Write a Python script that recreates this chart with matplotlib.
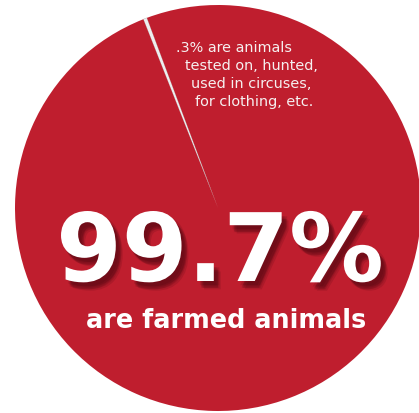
import matplotlib
matplotlib.use("Agg")
import matplotlib.pyplot as plt
import matplotlib.patheffects as pe

# Share of animals by use (percent)
categories = ["tested on, hunted, circuses, clothing", "farmed animals"]
shares = [0.3, 99.7]

headline = "99.7%"
headline_caption = "are farmed animals"
minor_caption = [".3% are animals", "tested on, hunted,", "used in circuses,", "for clothing, etc."]

RED = "#BF1E2E"
SLIVER = "#eeeeee"

W, H = 419, 414
fig = plt.figure(figsize=(W / 100, H / 100), dpi=100)
ax = fig.add_axes([0, 0, 1, 1])

wedges, _ = ax.pie(
    shares,
    colors=[SLIVER, RED],
    startangle=110.5,
    counterclock=True,
    center=(218, 205),
    radius=203,
    frame=True,
    wedgeprops=dict(linewidth=0),
)
wedges[0].set_edgecolor("#b0b0b0")
wedges[0].set_linewidth(0.3)

ax.set_xlim(0, W)
ax.set_ylim(0, H)
ax.set_aspect("equal")
ax.axis("off")

# Annotation for the thin slice, indented along the slice edge
xs = [176, 185, 191, 195]
baselines = [52, 70, 88, 106]
for txt, x, yb in zip(minor_caption, xs, baselines):
    ax.text(x, H - yb, txt, color="#f6f0f0", fontsize=10.4,
            family="DejaVu Sans", fontweight="medium", ha="left", va="baseline")

# Headline figure with a soft drop shadow (several faint layers)
shadow = [pe.SimplePatchShadow(offset=(dx, dy), shadow_rgbFace="#4a0610", alpha=0.16)
          for dx, dy in [(2, -3), (3, -4), (4, -5), (5, -6), (3, -5), (4, -3)]]
ax.text(220, H - 282, headline, color="white", fontsize=68,
        family="DejaVu Sans", fontweight="bold", ha="center", va="baseline",
        path_effects=shadow + [pe.Normal()])

ax.text(226.5, H - 328, headline_caption, color="white", fontsize=18.4,
        family="DejaVu Sans", fontweight="bold", ha="center", va="baseline")

fig.savefig("out.png", dpi=100, facecolor="white")
